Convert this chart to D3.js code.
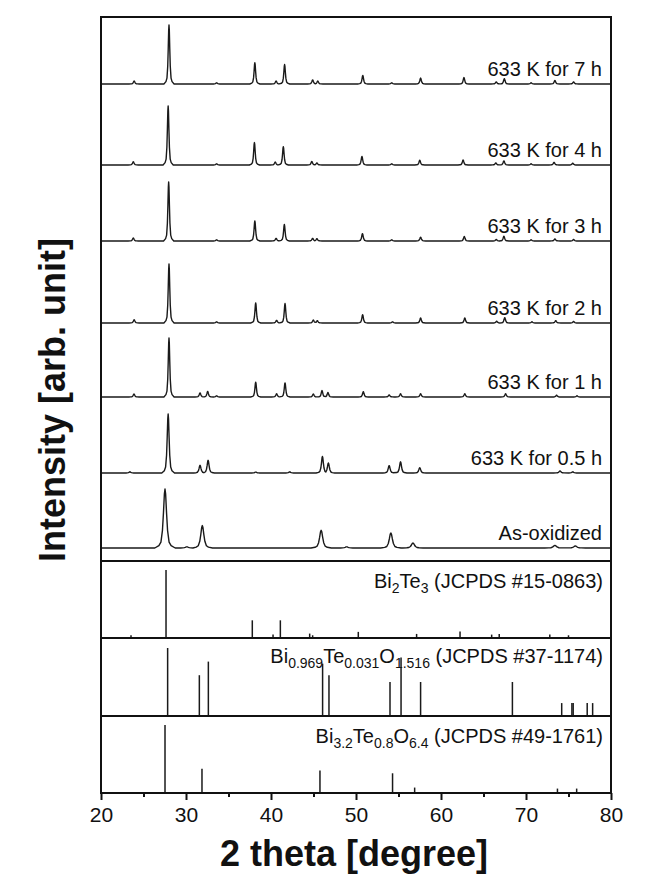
<!DOCTYPE html>
<html>
<head>
<meta charset="utf-8">
<script src="https://cdn.jsdelivr.net/npm/d3@7"></script>
<style>
body { margin: 0; background: #fff; }
text { font-family: "Liberation Sans", Arial, sans-serif; fill: #111; }
</style>
</head>
<body>
<div id="chart"></div>
<script>
/* DATA - peaks as [2theta, relative intensity], main peak = 100 */

var traceNames = ["633 K for 7 h", "633 K for 4 h", "633 K for 3 h", "633 K for 2 h",
	"633 K for 1 h", "633 K for 0.5 h", "As-oxidized"];

var peaks7h = [[23.9, 5], [28.0, 100], [33.6, 2], [38.1, 36], [40.6, 5], [41.6, 33], [44.9, 7], [45.5, 5],
	[50.8, 14.5], [54.2, 2], [57.6, 10], [62.7, 11], [66.5, 3.5], [67.45, 9], [70.6, 2], [73.4, 6], [75.6, 3.5]];
var peaks4h = [[23.8, 5.5], [27.9, 100], [33.6, 2], [38.05, 38], [40.5, 5], [41.45, 31], [44.8, 6], [45.4, 3.5],
	[50.7, 14.5], [54.2, 2], [57.5, 8], [62.6, 8.5], [66.45, 3.5], [67.4, 7], [70.6, 2], [73.3, 4.5], [75.5, 3]];
var peaks3h = [[23.8, 5], [27.96, 100], [33.6, 2], [38.1, 34], [40.6, 4.5], [41.57, 28], [44.9, 4.5], [45.4, 4],
	[50.76, 12.5], [54.2, 2], [57.6, 6.5], [62.74, 7.5], [66.5, 2.5], [67.4, 8], [70.6, 2], [73.4, 3.5], [75.6, 2.5]];
var peaks2h = [[23.9, 5.5], [28.0, 100], [33.6, 2], [38.2, 34], [40.66, 4.5], [41.65, 33], [44.98, 5], [45.45, 4],
	[50.78, 14], [54.3, 2], [57.6, 8.5], [62.8, 8.5], [66.55, 3], [67.5, 9], [70.7, 2], [73.5, 4], [75.6, 2.5]];
var peaks1h = [[23.88, 5], [28.0, 100], [31.65, 7], [32.55, 9.5], [33.6, 2], [38.2, 25], [40.66, 5.5], [41.65, 24],
	[44.98, 5], [46.0, 11], [46.7, 7.5], [50.86, 9], [53.9, 3.5], [55.24, 5.5], [57.6, 5.5], [62.8, 5.5],
	[67.6, 5.5], [73.6, 3], [76.0, 2]];
var peaks05h = [[23.4, 2], [27.9, 100], [31.65, 13], [32.6, 21.5], [38.2, 1.5], [42.2, 2], [46.05, 28], [46.75, 17],
	[53.9, 12.5], [55.24, 19], [57.5, 9], [74.0, 3.5], [75.5, 2]];
var peaksAsOx = [[27.53, 100], [30.1, 2], [31.92, 38], [45.9, 30], [48.9, 2], [54.1, 25.5], [56.7, 8.5],
	[73.4, 4.5], [75.8, 3.5]];

var traces = [peaks7h, peaks4h, peaks3h, peaks2h, peaks1h, peaks05h, peaksAsOx];

// reference patterns: [2theta, relative intensity]
var bi2te3Lines = [[23.53, 4], [27.65, 100], [33.26, 1.5], [37.8, 26], [40.24, 5], [41.1, 26], [42.15, 1.5],
	[44.55, 6.5], [44.9, 4], [50.27, 9], [57.13, 6], [62.24, 9.5], [65.96, 5], [66.85, 6], [72.8, 5], [75.0, 4]];
var biTeO1Lines = [[23.92, 1.5], [25.7, 1.5], [27.84, 100], [30.15, 1.5], [31.57, 60], [32.63, 80], [38.2, 1.5],
	[41.1, 1.5], [46.07, 77], [46.82, 60], [51.06, 1.5], [54.0, 50], [55.3, 86], [57.6, 50], [58.9, 1.5],
	[66.03, 1.5], [68.4, 50], [74.2, 19], [75.4, 19], [75.55, 19], [77.2, 19], [77.84, 19]];
var biTeO2Lines = [[27.53, 100], [31.88, 35.5], [45.76, 33], [54.3, 29], [56.9, 8], [66.8, 1.5], [73.7, 6.5],
	[75.96, 6.5]];

var xMajorTicks = [20, 30, 40, 50, 60, 70, 80];
var xMinorTicks = [25, 35, 45, 55, 65, 75];

/* LAYOUT */

var width = 650, height = 891,
	plotLeft = 101, plotRight = 611, plotTop = 17, plotBottom = 793;

var panelEdges = [561, 638, 716, 793],
	traceBases = [84, 165, 241, 323, 397, 473, 548],
	traceWidths = [0.6, 0.6, 0.6, 0.6, 0.6, 0.75, 1.2],
	// peak glyph: [offset in half-widths, fraction of peak height]
	peakShape = [[-1, 0], [-0.6, 0.04], [-0.4, 0.1], [-0.25, 0.3], [-0.15, 0.6], [-0.06, 0.92], [0, 1],
		[0.06, 0.92], [0.15, 0.6], [0.25, 0.3], [0.4, 0.1], [0.6, 0.04], [1, 0]];

var svg = d3.select("#chart").append("svg")
	.attr("width", width)
	.attr("height", height);

var x = d3.scaleLinear()
	.domain([20, 80])
	.range([plotLeft, plotRight]);

var yTrace = d3.scaleLinear()
	.domain([0, 100])
	.range([0, -59]);

var yStick = d3.scaleLinear()
	.domain([0, 100])
	.range([0, -68]);

var line = d3.line()
	.x(function(d) { return x(d[0]); })
	.y(function(d) { return yTrace(d[1]); });

function tracePoints(pk, w) {
	var pts = [[20, 0]];
	pk.forEach(function(p, i) {
		var lo = i > 0 ? (pk[i - 1][0] + p[0]) / 2 : 20,
			hi = i < pk.length - 1 ? (p[0] + pk[i + 1][0]) / 2 : 80;
		peakShape.forEach(function(s) {
			var xx = p[0] + s[0] * w;
			if (xx > lo && xx < hi) pts.push([xx, s[1] * p[1]]);
		});
	});
	pts.push([80, 0]);
	return pts;
}

/* traces */

traces.forEach(function(pk, i) {
	var g = svg.append("g")
		.attr("transform", "translate(0," + traceBases[i] + ")");

	g.append("path")
		.datum(tracePoints(pk, traceWidths[i]))
		.attr("fill", "none")
		.attr("stroke", "#1a1a1a")
		.attr("stroke-width", 1.4)
		.attr("stroke-linejoin", "round")
		.attr("d", line);

	g.append("text")
		.attr("x", 602)
		.attr("y", -8)
		.attr("text-anchor", "end")
		.style("font-size", "20px")
		.text(traceNames[i]);
});

/* reference sticks */

var refs = [
	{lines: bi2te3Lines, parts: [["Bi"], ["2", 1], ["Te"], ["3", 1], [" (JCPDS #15-0863)"]], ty: 588},
	{lines: biTeO1Lines, parts: [["Bi"], ["0.969", 1], ["Te"], ["0.031", 1], ["O"], ["1.516", 1], [" (JCPDS #37-1174)"]], ty: 663},
	{lines: biTeO2Lines, parts: [["Bi"], ["3.2", 1], ["Te"], ["0.8", 1], ["O"], ["6.4", 1], [" (JCPDS #49-1761)"]], ty: 743}
];

refs.forEach(function(ref, i) {
	var base = panelEdges[i + 1];

	var t = svg.append("text")
		.attr("x", 603)
		.attr("y", ref.ty)
		.attr("text-anchor", "end")
		.style("font-size", "20px");

	var shifted = false;
	ref.parts.forEach(function(p) {
		var sp = t.append("tspan").text(p[0]);
		if (p[1]) {
			sp.attr("dy", shifted ? 0 : 5).style("font-size", "14px");
			shifted = true;
		} else {
			sp.attr("dy", shifted ? -5 : 0);
			shifted = false;
		}
	});

	svg.append("g")
		.selectAll("line")
		.data(ref.lines)
		.enter().append("line")
		.attr("x1", function(d) { return x(d[0]); })
		.attr("x2", function(d) { return x(d[0]); })
		.attr("y1", base)
		.attr("y2", function(d) { return base + yStick(d[1]); })
		.attr("stroke", "#1a1a1a")
		.attr("stroke-width", 1.5);
});

/* frame and dividers */

svg.append("rect")
	.attr("x", plotLeft)
	.attr("y", plotTop)
	.attr("width", plotRight - plotLeft)
	.attr("height", plotBottom - plotTop)
	.attr("fill", "none")
	.attr("stroke", "#111")
	.attr("stroke-width", 2);

svg.selectAll(".divider")
	.data(panelEdges.slice(0, 3))
	.enter().append("line")
	.attr("class", "divider")
	.attr("x1", plotLeft)
	.attr("x2", plotRight)
	.attr("y1", function(d) { return d; })
	.attr("y2", function(d) { return d; })
	.attr("stroke", "#111")
	.attr("stroke-width", 2);

/* axes */

var xAxis = svg.append("g")
	.attr("transform", "translate(0," + plotBottom + ")")
	.call(d3.axisBottom(x).tickValues(xMajorTicks).tickSize(7).tickPadding(7).tickSizeOuter(0));

xAxis.select(".domain").remove();
xAxis.selectAll("line").attr("stroke", "#111").attr("stroke-width", 2);
xAxis.selectAll("text")
	.style("font-family", "'Liberation Sans', Arial, sans-serif")
	.style("font-size", "21px")
	.attr("fill", "#111");

var xMinor = svg.append("g")
	.attr("transform", "translate(0," + plotBottom + ")")
	.call(d3.axisBottom(x).tickValues(xMinorTicks).tickSize(4).tickFormat("").tickSizeOuter(0));

xMinor.select(".domain").remove();
xMinor.selectAll("line").attr("stroke", "#111").attr("stroke-width", 2);

svg.append("text")
	.attr("x", (plotLeft + plotRight) / 2 - 2)
	.attr("y", 866)
	.attr("text-anchor", "middle")
	.style("font-size", "36px")
	.style("font-weight", "bold")
	.text("2 theta [degree]");

svg.append("text")
	.attr("transform", "translate(65,400) rotate(-90)")
	.attr("text-anchor", "middle")
	.style("font-size", "36px")
	.style("font-weight", "bold")
	.text("Intensity [arb. unit]");
</script>
</body>
</html>
